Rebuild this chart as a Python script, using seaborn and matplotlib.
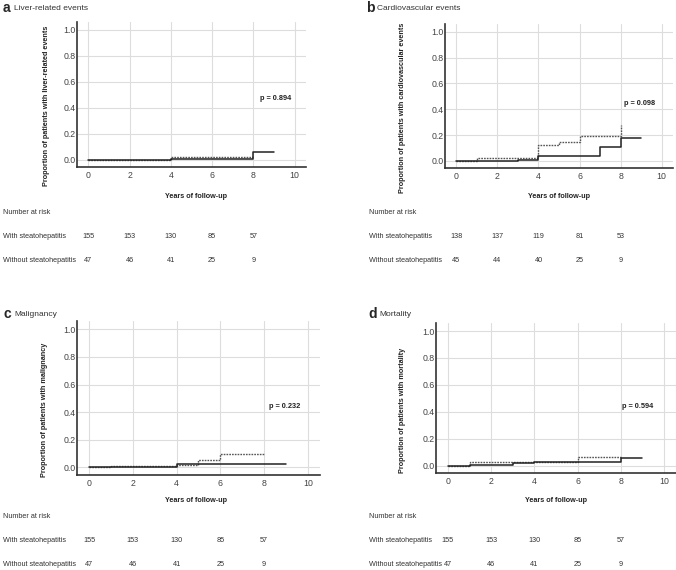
import numpy as np
import pandas as pd
import matplotlib
matplotlib.use('Agg')
from matplotlib import pyplot as plt
from matplotlib import transforms
import seaborn as sns

# step curves (time in years, cumulative proportion)
a_with_t = [0, 4, 8, 9]
a_with_y = [0.0, 0.007, 0.06, 0.06]
a_without_t = [0, 4, 8]
a_without_y = [0.0, 0.024, 0.024]

b_with_t = [0, 3, 4, 7, 8, 9]
b_with_y = [0.0, 0.007, 0.035, 0.105, 0.175, 0.175]
b_without_t = [0, 1, 4, 5, 6, 8]
b_without_y = [0.0, 0.02, 0.12, 0.15, 0.19, 0.28]

c_with_t = [0, 1, 4, 9]
c_with_y = [0.0, 0.005, 0.027, 0.027]
c_without_t = [0, 1, 4, 5, 6, 8]
c_without_y = [0.0, 0.007, 0.02, 0.055, 0.095, 0.095]

d_with_t = [0, 1, 3, 4, 8, 9]
d_with_y = [0.0, 0.007, 0.017, 0.026, 0.06, 0.06]
d_without_t = [0, 1, 6, 8]
d_without_y = [0.0, 0.025, 0.065, 0.065]

p_values = ['p = 0.894', 'p = 0.098', 'p = 0.232', 'p = 0.594']
letters = ['a', 'b', 'c', 'd']
titles = ['Liver-related events', 'Cardiovascular events', 'Malignancy', 'Mortality']
ylabels = ['Proportion of patients with liver-related events',
           'Proportion of patients with cardiovascular events',
           'Proportion of patients with malignancy',
           'Proportion of patients with mortality']

risk_years = [0, 2, 4, 6, 8]
a_risk_with = [155, 153, 130, 85, 57]
a_risk_without = [47, 46, 41, 25, 9]
b_risk_with = [138, 137, 119, 81, 53]
b_risk_without = [45, 44, 40, 25, 9]
c_risk_with = [155, 153, 130, 85, 57]
c_risk_without = [47, 46, 41, 25, 9]
d_risk_with = [155, 153, 130, 85, 57]
d_risk_without = [47, 46, 41, 25, 9]

sns.set_style('whitegrid')
plt.rcParams['font.family'] = ['Liberation Sans', 'DejaVu Sans']

W, H = 676, 570
fig = plt.figure(figsize=(W / 100, H / 100), dpi=100)

# pixel boxes: left, right, top, bottom
boxes = [(77, 306, 22, 167), (445, 673, 24, 168), (77, 320, 321, 475), (436, 676, 323, 473)]
ylab_x = [-0.118, -0.171, -0.12, -0.126]
xlab = [(0.52, -0.18), (0.5, -0.174), (0.49, -0.143), (0.5, -0.16)]
text_left = [3, 369, 3, 369]
letter_pos = [(3, 8), (366, 8), (3, 314), (368, 314)]
risk_rows = [(212, 237, 261), (212, 237, 261), (516, 541, 564), (516, 541, 564)]
p_pos = [(8.3, 0.47), (8.15, 0.445), (8.2, 0.443), (8.05, 0.437)]

curves = [
    (a_with_t, a_with_y, a_without_t, a_without_y, a_risk_with, a_risk_without),
    (b_with_t, b_with_y, b_without_t, b_without_y, b_risk_with, b_risk_without),
    (c_with_t, c_with_y, c_without_t, c_without_y, c_risk_with, c_risk_without),
    (d_with_t, d_with_y, d_without_t, d_without_y, d_risk_with, d_risk_without),
]

for i in range(4):
    l, r, t, b = boxes[i]
    ax = fig.add_axes([l / W, (H - b) / H, (r - l) / W, (b - t) / H])
    wt, wy, wot, woy, rw, rwo = curves[i]

    sns.lineplot(x=wot, y=woy, ax=ax, color='#555555', lw=1.0, drawstyle='steps-post',
                 estimator=None, linestyle=(0, (1.2, 0.8)))
    sns.lineplot(x=wt, y=wy, ax=ax, color='#222222', lw=1.1, drawstyle='steps-post',
                 estimator=None)

    ax.set_xlim(-0.55, 10.55)
    ax.set_ylim(-0.055, 1.06)
    ax.set_xticks(range(0, 11, 2))
    ax.set_yticks(np.arange(0, 1.01, 0.2))
    ax.set_yticklabels(['0.0', '0.2', '0.4', '0.6', '0.8', '1.0'])
    ax.grid(True, color='#dddddd', lw=0.8)
    ax.tick_params(axis='both', labelsize=6.3, colors='#444444', length=0, pad=3)
    ax.tick_params(axis='y', pad=1)
    for s in ['top', 'right']:
        ax.spines[s].set_visible(False)
    for s in ['left', 'bottom']:
        ax.spines[s].set_visible(True)
        ax.spines[s].set_color('#333333')
        ax.spines[s].set_linewidth(1.2)

    ax.set_ylabel(ylabels[i], fontsize=5.2, fontweight='bold', color='#222222')
    ax.yaxis.set_label_coords(ylab_x[i], 0.42)
    ax.set_xlabel('Years of follow-up', fontsize=5.2, fontweight='bold', color='#222222')
    ax.xaxis.set_label_coords(*xlab[i])

    ax.text(p_pos[i][0], p_pos[i][1], p_values[i], fontsize=5.3, fontweight='bold',
            color='#222222', ha='left', va='center')

    # panel heading
    lx, ly = letter_pos[i]
    fig.text(lx / W, 1 - ly / H, letters[i], fontsize=10, fontweight='bold', va='center', ha='left')
    fig.text((lx + 11) / W, 1 - ly / H, titles[i], fontsize=6, va='center', ha='left', color='#333333')

    # number at risk table
    y0, y1, y2 = risk_rows[i]
    tx = text_left[i]
    fig.text(tx / W, 1 - y0 / H, 'Number at risk', fontsize=5.2, va='center', color='#333333')
    fig.text(tx / W, 1 - y1 / H, 'With steatohepatitis', fontsize=5.2, va='center', color='#333333')
    fig.text(tx / W, 1 - y2 / H, 'Without steatohepatitis', fontsize=5.2, va='center', color='#333333')
    trans = transforms.blended_transform_factory(ax.transData, fig.transFigure)
    for yr, n1, n2 in zip(risk_years, rw, rwo):
        ax.text(yr, 1 - y1 / H, str(n1), transform=trans, fontsize=5.2, ha='center',
                va='center', color='#333333', clip_on=False)
        ax.text(yr, 1 - y2 / H, str(n2), transform=trans, fontsize=5.2, ha='center',
                va='center', color='#333333', clip_on=False)

fig.savefig('out.png', dpi=100)
